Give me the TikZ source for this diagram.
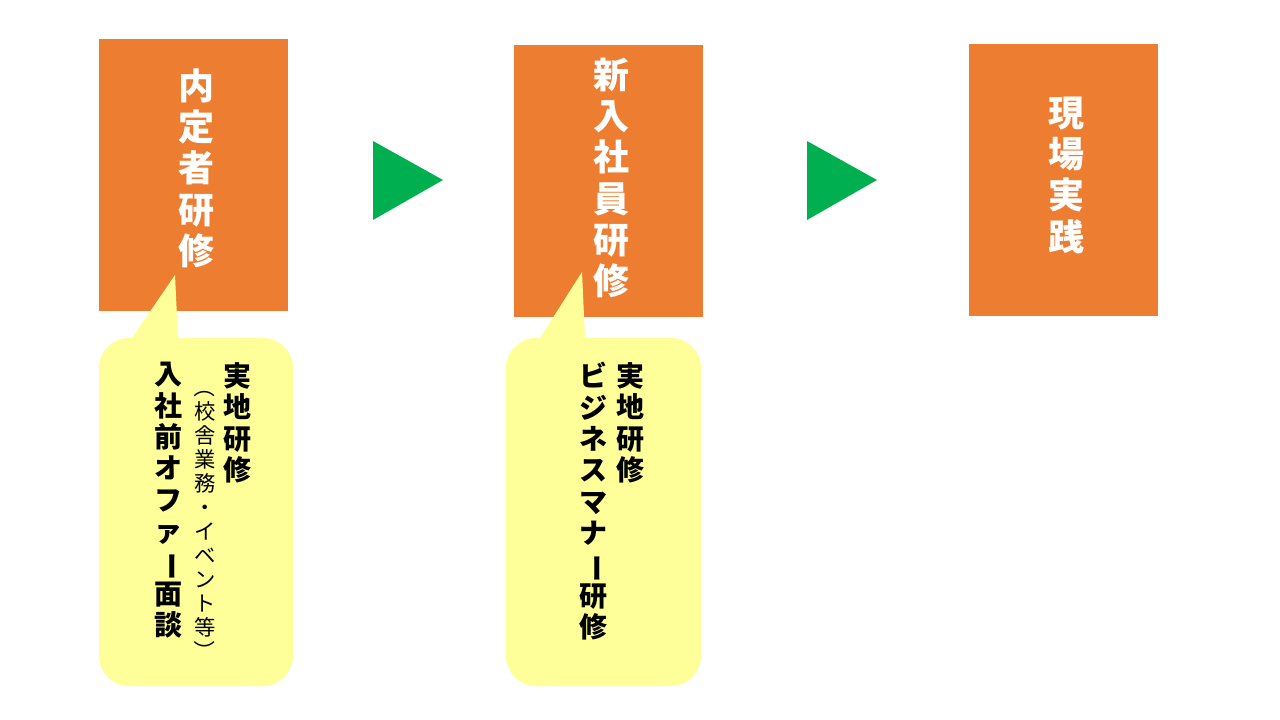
\documentclass[tikz,border=0pt]{standalone}
\usepackage{fontspec}
\usepackage{graphicx}
\newfontfamily\cjk{Noto Sans CJK JP}
\definecolor{stageorange}{RGB}{237,125,49}
\definecolor{arrowgreen}{RGB}{0,176,80}
\definecolor{noteyellow}{RGB}{255,255,153}
\newcommand{\vbar}{\rotatebox[origin=c]{-90}{ー}}
\newcommand{\vopen}{\rotatebox[origin=c]{-90}{（}}
\newcommand{\vclose}{\rotatebox[origin=c]{-90}{）}}
\tikzset{every picture/.style={line width=0.75pt},
  stagebox/.style={fill=stageorange},
  stagetext/.style={text=white,align=center,inner sep=0pt,font=\cjk\bfseries\fontsize{27}{31}\selectfont},
  notetext/.style={align=center,inner sep=0pt,anchor=north,font=\cjk\bfseries\fontsize{21}{23.5}\selectfont},
  subtext/.style={align=center,inner sep=0pt,anchor=north,font=\cjk\fontsize{16}{18}\selectfont},
  playtri/.style={fill=arrowgreen}}
\begin{document}
\begin{tikzpicture}[x=0.75pt,y=0.75pt,yscale=-1,xscale=1]
\useasboundingbox (0,0) rectangle (1280,720);

%Stage boxes
\fill[stagebox] (99,39) rectangle (288,311);
\fill[stagebox] (514,45) rectangle (703,317);
\fill[stagebox] (969,44) rectangle (1158,316);
\node[stagetext] (naitei) at (196,168) {内\\定\\者\\研\\修};
\node[stagetext] (shinnyu) at (611,178) {新\\入\\社\\員\\研\\修};
\node[stagetext] (genba) at (1066,175) {現\\場\\実\\践};

%Arrows
\fill[playtri] (373,141) -- (443,180) -- (373,220) -- cycle;
\fill[playtri] (807,141) -- (877,180) -- (807,220) -- cycle;

%Callout 1
\fill[noteyellow] (132,338) -- (175,275) -- (178,338) -- (263,338)
  arc[start angle=-90,end angle=0,radius=30] -- (293,656)
  arc[start angle=0,end angle=90,radius=30] -- (129,686)
  arc[start angle=90,end angle=180,radius=30] -- (99,368)
  arc[start angle=180,end angle=270,radius=30] -- cycle;
\node[notetext] (jicchi1) at (237,362) {実\\地\\研\\修};
\node[subtext] (kosha) at (205,376) {\vopen\\校\\舎\\業\\務\\・\\イ\\ベ\\ン\\ト\\等\\\vclose};
\node[notetext] (offer) at (168,362) {入\\社\\前\\オ\\フ\\ァ\\\vbar\\面\\談};

%Callout 2
\fill[noteyellow] (540,338) -- (582,272) -- (585,338) -- (671,338)
  arc[start angle=-90,end angle=0,radius=30] -- (701,656)
  arc[start angle=0,end angle=90,radius=30] -- (536,686)
  arc[start angle=90,end angle=180,radius=30] -- (506,368)
  arc[start angle=180,end angle=270,radius=30] -- cycle;
\node[notetext] (jicchi2) at (630,362) {実\\地\\研\\修};
\node[notetext] (manner) at (593,362) {ビ\\ジ\\ネ\\ス\\マ\\ナ\\\vbar\\研\\修};

\end{tikzpicture}
\end{document}
